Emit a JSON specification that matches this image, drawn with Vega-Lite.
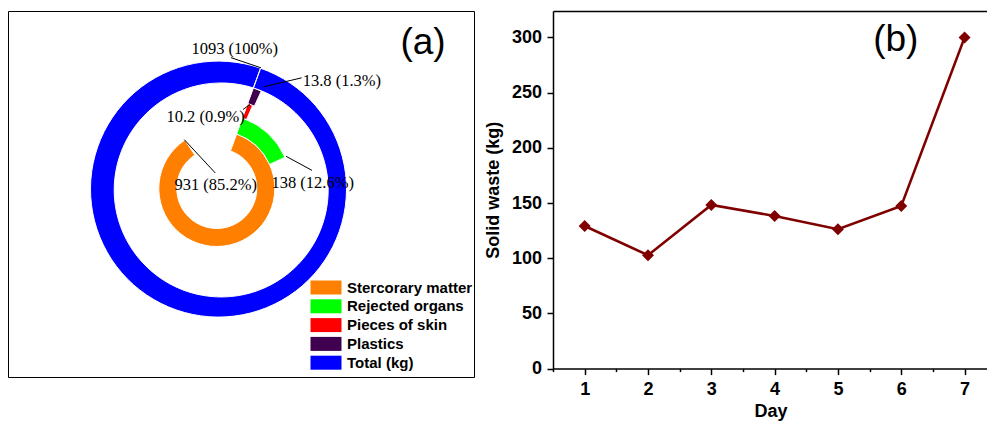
{
  "$schema": "https://vega.github.io/schema/vega-lite/v6.json",
  "background": "white",
  "padding": {"left": 7, "top": 10, "right": 0, "bottom": 0},
  "spacing": 9,
  "config": {
    "font": "Liberation Sans",
    "view": {"stroke": null},
    "axis": {
      "domainColor": "black", "domainWidth": 1.5, "tickColor": "black", "tickWidth": 1.5,
      "labelFont": "Liberation Sans", "labelFontSize": 18, "labelFontWeight": "bold", "labelColor": "black",
      "titleFont": "Liberation Sans", "titleFontSize": 18, "titleFontWeight": "bold", "titleColor": "black",
      "grid": false
    }
  },
  "datasets": {
    "waste": [
      {"part": "Stercorary matter", "kg": 931, "label": "931 (85.2%)", "ringStart": 0, "ringEnd": 1},
      {"part": "Rejected organs", "kg": 138, "label": "138 (12.6%)", "ringStart": 1, "ringEnd": 2},
      {"part": "Pieces of skin", "kg": 10.2, "label": "10.2 (0.9%)", "ringStart": 2, "ringEnd": 3},
      {"part": "Plastics", "kg": 13.8, "label": "13.8 (1.3%)", "ringStart": 3, "ringEnd": 4},
      {"part": "Total (kg)", "kg": 1093, "label": "1093 (100%)", "ringStart": 4, "ringEnd": 5}
    ],
    "daily": [
      {"day": 1, "waste": 129.2},
      {"day": 2, "waste": 102.7},
      {"day": 3, "waste": 148.3},
      {"day": 4, "waste": 138.3},
      {"day": 5, "waste": 126.3},
      {"day": 6, "waste": 147.4},
      {"day": 7, "waste": 300}
    ]
  },
  "hconcat": [
    {
      "width": 466,
      "height": 366,
      "view": {"stroke": "black", "strokeWidth": 1},
      "data": {"name": "waste"},
      "layer": [
        {
          "mark": {"type": "arc", "stroke": "white", "strokeWidth": 1},
          "encoding": {
            "x": {"datum": 0, "type": "quantitative", "scale": {"domain": [-1.631, 2.009], "nice": false, "zero": false}, "axis": null},
            "y": {"datum": 0, "type": "quantitative", "scale": {"domain": [-1.47, 1.384], "nice": false, "zero": false}, "axis": null},
            "theta": {"field": "kg", "type": "quantitative", "stack": null, "scale": {"domain": [0, 1093], "range": [0.349, 6.632]}},
            "theta2": {"datum": 0},
            "radius": {"field": "ringEnd", "type": "quantitative", "scale": {"type": "linear", "domain": [0, 1, 2, 3, 4, 5], "range": [40, 58, 75, 90.5, 107, 128]}},
            "radius2": {"field": "ringStart"},
            "color": {
              "field": "part", "type": "nominal",
              "scale": {"domain": ["Stercorary matter", "Rejected organs", "Pieces of skin", "Plastics", "Total (kg)"], "range": ["#FF8000", "#00FF00", "#FF0000", "#400050", "#0000FF"]},
              "legend": {
                "title": null, "orient": "none", "legendX": 310.5, "legendY": 269, "padding": 0,
                "symbolType": "M-2.214,-1L2.214,-1L2.214,1L-2.214,1Z", "symbolSize": 196, "symbolStrokeWidth": 0,
                "labelFont": "Liberation Sans", "labelFontSize": 15, "labelFontWeight": "bold", "labelColor": "black",
                "labelOffset": 13.5, "rowPadding": 2.8, "labelLimit": 300
              }
            }
          }
        },
        {
          "transform": [{"filter": "datum.part == 'Total (kg)'"}],
          "layer": [
            {"mark": {"type": "rule", "color": "black", "strokeWidth": 1}, "encoding": {"x": {"datum": 0.111}, "y": {"datum": 1.02}, "x2": {"datum": 0.345}, "y2": {"datum": 0.941}}},
            {"mark": {"type": "text", "font": "Liberation Serif", "fontSize": 16.5, "align": "center", "baseline": "alphabetic", "color": "black"}, "encoding": {"x": {"datum": 0.14}, "y": {"datum": 1.045}, "text": {"field": "label"}}}
          ]
        },
        {
          "transform": [{"filter": "datum.part == 'Plastics'"}],
          "layer": [
            {"mark": {"type": "rule", "color": "black", "strokeWidth": 1}, "encoding": {"x": {"datum": 0.366}, "y": {"datum": 0.793}, "x2": {"datum": 0.663}, "y2": {"datum": 0.863}}},
            {"mark": {"type": "text", "font": "Liberation Serif", "fontSize": 16.5, "align": "left", "baseline": "alphabetic", "color": "black"}, "encoding": {"x": {"datum": 0.671}, "y": {"datum": 0.803}, "text": {"field": "label"}}}
          ]
        },
        {
          "transform": [{"filter": "datum.part == 'Pieces of skin'"}],
          "layer": [
            {"mark": {"type": "rule", "color": "black", "strokeWidth": 1}, "encoding": {"x": {"datum": 0.205}, "y": {"datum": 0.616}, "x2": {"datum": 0.259}, "y2": {"datum": 0.655}}},
            {"mark": {"type": "text", "font": "Liberation Serif", "fontSize": 16.5, "align": "center", "baseline": "alphabetic", "color": "black"}, "encoding": {"x": {"datum": -0.087}, "y": {"datum": 0.516}, "text": {"field": "label"}}}
          ]
        },
        {
          "transform": [{"filter": "datum.part == 'Stercorary matter'"}],
          "layer": [
            {"mark": {"type": "rule", "color": "black", "strokeWidth": 1}, "encoding": {"x": {"datum": -0.254}, "y": {"datum": 0.381}, "x2": {"datum": -0.012}, "y2": {"datum": 0.121}}},
            {"mark": {"type": "text", "font": "Liberation Serif", "fontSize": 16.5, "align": "center", "baseline": "alphabetic", "color": "black"}, "encoding": {"x": {"datum": -0.009}, "y": {"datum": -0.009}, "text": {"field": "label"}}}
          ]
        },
        {
          "transform": [{"filter": "datum.part == 'Rejected organs'"}],
          "layer": [
            {"mark": {"type": "rule", "color": "black", "strokeWidth": 1}, "encoding": {"x": {"datum": 0.541}, "y": {"datum": 0.251}, "x2": {"datum": 0.744}, "y2": {"datum": 0.141}}},
            {"mark": {"type": "text", "font": "Liberation Serif", "fontSize": 16.5, "align": "center", "baseline": "alphabetic", "color": "black"}, "encoding": {"x": {"datum": 0.749}, "y": {"datum": 0.004}, "text": {"field": "label"}}}
          ]
        },
        {
          "data": {"values": [{"panel": "(a)"}]},
          "mark": {"type": "text", "font": "Liberation Sans", "fontSize": 37, "align": "center", "baseline": "alphabetic", "color": "black"},
          "encoding": {"x": {"datum": 1.611}, "y": {"datum": 1.049}, "text": {"field": "panel"}}
        }
      ]
    },
    {
      "width": 435,
      "height": 357.6,
      "data": {"name": "daily"},
      "resolve": {"scale": {"x": "independent"}},
      "layer": [
        {
          "mark": {"type": "line", "color": "#800000", "strokeWidth": 2.5},
          "encoding": {
            "x": {
              "field": "day", "type": "quantitative",
              "scale": {"domain": [0.5, 7.37], "nice": false, "zero": false},
              "axis": {
                "orient": "bottom", "title": "Day", "values": [0.5, 1, 1.5, 2, 2.5, 3, 3.5, 4, 4.5, 5, 5.5, 6, 6.5, 7],
                "labelExpr": "datum.value % 1 == 0 ? '' + datum.value : ''",
                "tickSize": {"condition": {"test": "datum.value % 1 == 0", "value": 6}, "value": 3},
                "labelPadding": 6, "titlePadding": 4
              }
            },
            "y": {
              "field": "waste", "type": "quantitative",
              "scale": {"domain": [0, 324], "nice": false, "zero": false},
              "axis": {
                "title": "Solid waste (kg)",
                "values": [0, 25, 50, 75, 100, 125, 150, 175, 200, 225, 250, 275, 300],
                "labelExpr": "datum.value % 50 == 0 ? '' + datum.value : ''",
                "tickSize": {"condition": {"test": "datum.value % 50 == 0", "value": 6}, "value": 3},
                "labelPadding": 5.5, "titlePadding": 9
              }
            }
          }
        },
        {
          "mark": {"type": "point", "shape": "diamond", "filled": true, "size": 144, "color": "#800000", "opacity": 1},
          "encoding": {
            "x": {
              "field": "day", "type": "quantitative",
              "scale": {"domain": [0.5, 7.37], "nice": false, "zero": false},
              "axis": {
                "orient": "top", "title": null, "labelColor": "transparent", "labelFontSize": 1, "labelPadding": 0,
                "values": [0.5, 1.2, 1.9, 2.6, 3.3, 4.0, 4.7, 5.4, 6.1, 6.8],
                "ticks": false
              }
            },
            "y": {"field": "waste", "type": "quantitative"}
          }
        },
        {
          "data": {"values": [{"panel": "(b)"}]},
          "mark": {"type": "text", "font": "Liberation Sans", "fontSize": 37, "align": "center", "baseline": "alphabetic", "color": "black"},
          "encoding": {
            "x": {"datum": 5.913, "type": "quantitative", "scale": {"domain": [0.5, 7.37], "nice": false, "zero": false}, "axis": null},
            "y": {"datum": 287.6},
            "text": {"field": "panel"}
          }
        }
      ]
    }
  ]
}
